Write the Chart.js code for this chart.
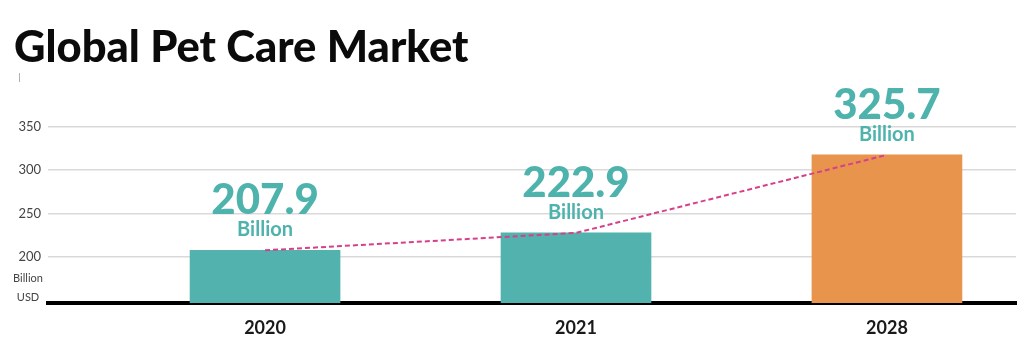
<!DOCTYPE html>
<html>
<head>
<meta charset="utf-8">
<script src="https://cdn.jsdelivr.net/npm/chart.js@4.4.1/dist/chart.umd.min.js"></script>
<style>
  html, body { margin: 0; padding: 0; background: #fff; }
  #wrap { width: 1024px; height: 354px; position: relative; }
</style>
</head>
<body>
<div id="wrap"><canvas id="grafico"></canvas></div>
<script>
// Datos
const ANIOS = ['2020', '2021', '2028'];
const VALORES_BARRA = [207.6, 227.6, 317.4];
const ETIQUETAS_VALOR = ['207.9', '222.9', '325.7'];
const COLORES_BARRA = ['#52b2ae', '#52b2ae', '#e8944d'];
const TICKS_Y = [200, 250, 300, 350];

const TEAL = '#4fb3ad';
const FUENTE = 'Lato, "Open Sans", sans-serif';

const pluginDecoracion = {
  id: 'pluginDecoracion',
  afterDraw(chart) {
    const { ctx } = chart;
    ctx.save();

    // titulo
    ctx.fillStyle = '#0b0b0b';
    ctx.font = '900 43.5px ' + FUENTE;
    ctx.textAlign = 'left';
    ctx.textBaseline = 'alphabetic';
    ctx.fillText('Global Pet Care Market', 14, 62);

    // marca gris pequeña bajo el titulo
    ctx.strokeStyle = '#b0b0b0';
    ctx.lineWidth = 1;
    ctx.beginPath();
    ctx.moveTo(19.5, 73);
    ctx.lineTo(19.5, 82);
    ctx.stroke();

    // unidad del eje y
    ctx.fillStyle = '#444';
    ctx.font = '11px ' + FUENTE;
    ctx.textAlign = 'center';
    ctx.textBaseline = 'middle';
    ctx.fillText('Billion', 28, 278);
    ctx.fillText('USD', 28, 297);

    // etiquetas de valor sobre las barras
    const meta = chart.getDatasetMeta(1);
    meta.data.forEach((bar, i) => {
      const x = bar.x;
      const top = bar.y;
      ctx.fillStyle = TEAL;
      ctx.textAlign = 'center';
      ctx.textBaseline = 'alphabetic';
      ctx.font = 'bold 20px ' + FUENTE;
      ctx.fillText('Billion', x, top - 14);
      ctx.font = '900 42px ' + FUENTE;
      ctx.fillText(ETIQUETAS_VALOR[i], x, top - 36);
    });

    ctx.restore();
  },
};

new Chart(document.getElementById('grafico'), {
  data: {
    datasets: [
      {
        type: 'line',
        order: 0,
        data: VALORES_BARRA.map((v, i) => ({ x: i, y: v })),
        borderColor: '#d6408a',
        borderWidth: 2,
        borderDash: [5, 3],
        pointRadius: 0,
        fill: false,
        tension: 0,
      },
      {
        type: 'bar',
        order: 1,
        data: VALORES_BARRA.map((v, i) => ({ x: i, y: v })),
        backgroundColor: COLORES_BARRA,
        barThickness: 150,
        borderWidth: 0,
      },
    ],
  },
  options: {
    responsive: true,
    maintainAspectRatio: false,
    animation: false,
    layout: { padding: { top: 90, right: 8, bottom: 0, left: 0 } },
    scales: {
      x: {
        type: 'linear',
        offset: false,
        min: -0.698,
        max: 2.415,
        afterBuildTicks: (s) => { s.ticks = ANIOS.map((_, i) => ({ value: i })); },
        afterFit: (s) => { s.height = 51; },
        ticks: {
          callback: (v) => ANIOS[v] ?? '',
          color: '#1a1a1a',
          font: { family: FUENTE, size: 18, weight: 'bold' },
          padding: 14,
          maxRotation: 0,
        },
        grid: { display: false, drawTicks: false },
        border: { display: true, color: '#000', width: 4 },
      },
      y: {
        min: 147,
        max: 392,
        afterBuildTicks: (s) => { s.ticks = TICKS_Y.map((v) => ({ value: v })); },
        afterFit: (s) => { s.width = 48; },
        ticks: {
          color: '#444',
          font: { family: FUENTE, size: 13 },
          padding: 7,
        },
        grid: { color: '#d9d9d9', lineWidth: 1.5, drawTicks: false },
        border: { display: false },
      },
    },
    plugins: {
      legend: { display: false },
      tooltip: { enabled: false },
    },
  },
  plugins: [pluginDecoracion],
});
</script>
</body>
</html>
